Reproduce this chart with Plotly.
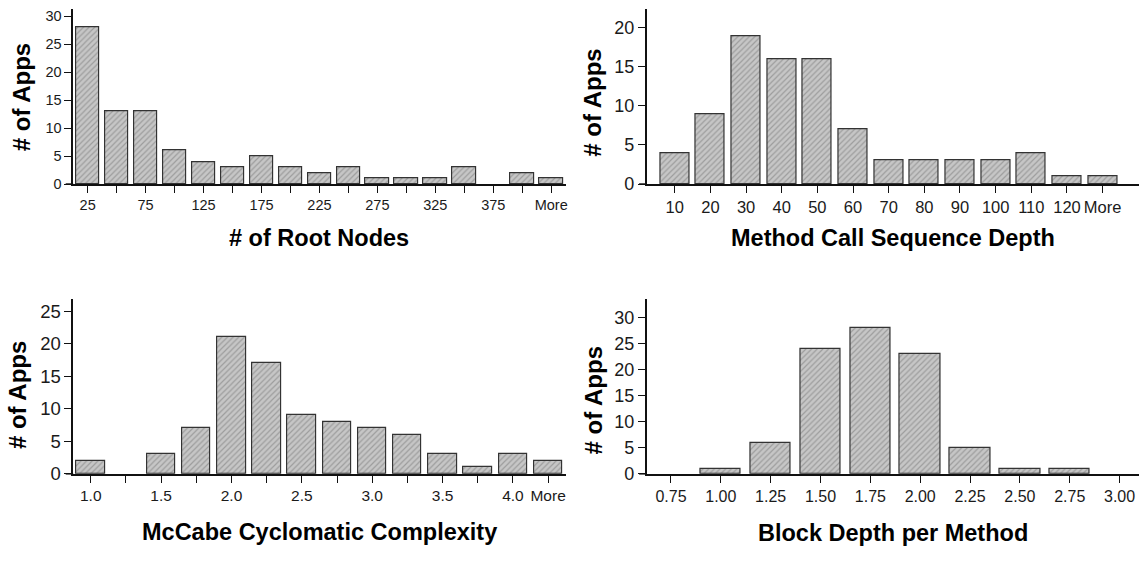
import plotly.graph_objects as go

# ---------------- data ----------------
root_cats = ["25", "50", "75", "100", "125", "150", "175", "200", "225", "250",
             "275", "300", "325", "350", "375", "400", "More"]
root_vals = [28, 13, 13, 6, 4, 3, 5, 3, 2, 3, 1, 1, 1, 3, 0, 2, 1]
root_ticks = ["25", "", "75", "", "125", "", "175", "", "225", "", "275", "",
              "325", "", "375", "", "More"]

depth_cats = ["10", "20", "30", "40", "50", "60", "70", "80", "90", "100",
              "110", "120", "More"]
depth_vals = [4, 9, 19, 16, 16, 7, 3, 3, 3, 3, 4, 1, 1]
depth_ticks = ["10", "20", "30", "40", "50", "60", "70", "80", "90", "100",
               "110", "120", "More"]

mccabe_cats = ["1.00", "1.25", "1.50", "1.75", "2.00", "2.25", "2.50", "2.75",
               "3.00", "3.25", "3.50", "3.75", "4.00", "More"]
mccabe_vals = [2, 0, 3, 7, 21, 17, 9, 8, 7, 6, 3, 1, 3, 2]
mccabe_ticks = ["1.0", "", "1.5", "", "2.0", "", "2.5", "", "3.0", "", "3.5",
                "", "4.0", "More"]

block_cats = ["0.75", "1.00", "1.25", "1.50", "1.75", "2.00", "2.25", "2.50",
              "2.75", "3.00"]
block_vals = [0, 1, 6, 24, 28, 23, 5, 1, 1, 0]
block_ticks = ["0.75", "1.00", "1.25", "1.50", "1.75", "2.00", "2.25", "2.50",
               "2.75", "3.00"]

x_titles = ["# of Root Nodes", "Method Call Sequence Depth",
            "McCabe Cyclomatic Complexity", "Block Depth per Method"]
y_title = "# of Apps"

# ---------------- layout geometry (pixels) ----------------
W, H = 1141, 561
FONT = "Liberation Sans, Arial, sans-serif"

def px_x(p):
    return p / W

def px_y(p):
    return 1 - p / H

panels = [
    dict(cats=root_cats, vals=root_vals, ticks=root_ticks,
         xd=(73.3, 566.7), yd=(8.3, 186.7), xr=(-0.5, 16.5), yr=(0, 31.3),
         xt=(320, 241.5), yt=(21.7, 98.5), xfs=14.5, yfs=14.5),
    dict(cats=depth_cats, vals=depth_vals, ticks=depth_ticks,
         xd=(647.7, 1141), yd=(8.3, 186.7), xr=(-0.79, 13.02), yr=(0, 22.4),
         xt=(894.5, 241.5), yt=(593.3, 103.5), xfs=16.5, yfs=18),
    dict(cats=mccabe_cats, vals=mccabe_vals, ticks=mccabe_ticks,
         xd=(73.3, 566.7), yd=(304, 482.3), xr=(-0.5, 13.5), yr=(0, 26.9),
         xt=(320, 542), yt=(18.3, 401.7), xfs=15.5, yfs=18.5),
    dict(cats=block_cats, vals=block_vals, ticks=block_ticks,
         xd=(647.7, 1141), yd=(304, 482.3), xr=(-0.49, 9.39), yr=(0, 33.6),
         xt=(894.5, 543), yt=(595, 407.5), xfs=16, yfs=18),
]

fig = go.Figure()
layout = dict(
    width=W, height=H, autosize=False,
    margin=dict(l=0, r=0, t=0, b=0, pad=0),
    paper_bgcolor="white", plot_bgcolor="white",
    showlegend=False, bargap=0,
    font=dict(family=FONT, color="#111111"),
)
annotations = []
shapes = []

for i, p in enumerate(panels):
    n = "" if i == 0 else str(i + 1)
    xa, ya = "x" + n, "y" + n
    fig.add_trace(go.Bar(
        x=p["cats"], y=p["vals"], xaxis=xa, yaxis=ya, width=0.81,
        marker=dict(
            color="#c4c4c4",
            line=dict(color="#333333",
                      width=[1.2 if v > 0 else 0 for v in p["vals"]]),
            pattern=dict(shape="/", fgcolor="#747474", bgcolor="#c6c6c6",
                         size=4, solidity=0.3),
        ),
        hoverinfo="skip",
    ))
    layout["xaxis" + n] = dict(
        domain=[px_x(p["xd"][0]), px_x(p["xd"][1])],
        anchor=ya, type="category", range=list(p["xr"]),
        tickmode="array", tickvals=p["cats"], ticktext=p["ticks"],
        ticks="outside", ticklen=7, tickwidth=1.3, tickcolor="#111111",
        showline=True, linecolor="#111111", linewidth=1.5,
        showgrid=False, zeroline=False, layer="above traces",
        tickfont=dict(family=FONT, size=p["xfs"], color="#1a1a1a"),
        fixedrange=True,
    )
    layout["yaxis" + n] = dict(
        domain=[px_y(p["yd"][1]), px_y(p["yd"][0])],
        anchor=xa, range=list(p["yr"]), dtick=5, tick0=0,
        ticks="outside", ticklen=7, tickwidth=1.3, tickcolor="#111111",
        showline=True, linecolor="#111111", linewidth=1.5,
        showgrid=False, zeroline=False, layer="above traces",
        tickfont=dict(family=FONT, size=p["yfs"], color="#1a1a1a"),
        fixedrange=True,
    )
    # extend x-axis line left under the y tick marks
    width_px = p["xd"][1] - p["xd"][0]
    shapes.append(dict(
        type="line", xref=xa + " domain", yref=ya + " domain",
        x0=-7.5 / width_px, x1=0.0, y0=0, y1=0,
        line=dict(color="#111111", width=1.5),
    ))
    annotations.append(dict(
        text="<b>" + x_titles[i] + "</b>", xref="paper", yref="paper",
        x=px_x(p["xt"][0]), y=px_y(p["xt"][1]), xanchor="center",
        yanchor="middle", showarrow=False,
        font=dict(family=FONT, size=23.5, color="#000000"),
    ))
    annotations.append(dict(
        text="<b>" + y_title + "</b>", xref="paper", yref="paper",
        x=px_x(p["yt"][0]), y=px_y(p["yt"][1]), xanchor="center",
        yanchor="middle", textangle=-90, showarrow=False,
        font=dict(family=FONT, size=24, color="#000000"),
    ))

layout["annotations"] = annotations
layout["shapes"] = shapes
fig.update_layout(**layout)
fig.write_html(
    "out.html",
    config={"displayModeBar": False},
    post_script="document.body.style.margin='0';document.body.style.padding='0';"
                "document.documentElement.style.overflow='hidden';",
)
